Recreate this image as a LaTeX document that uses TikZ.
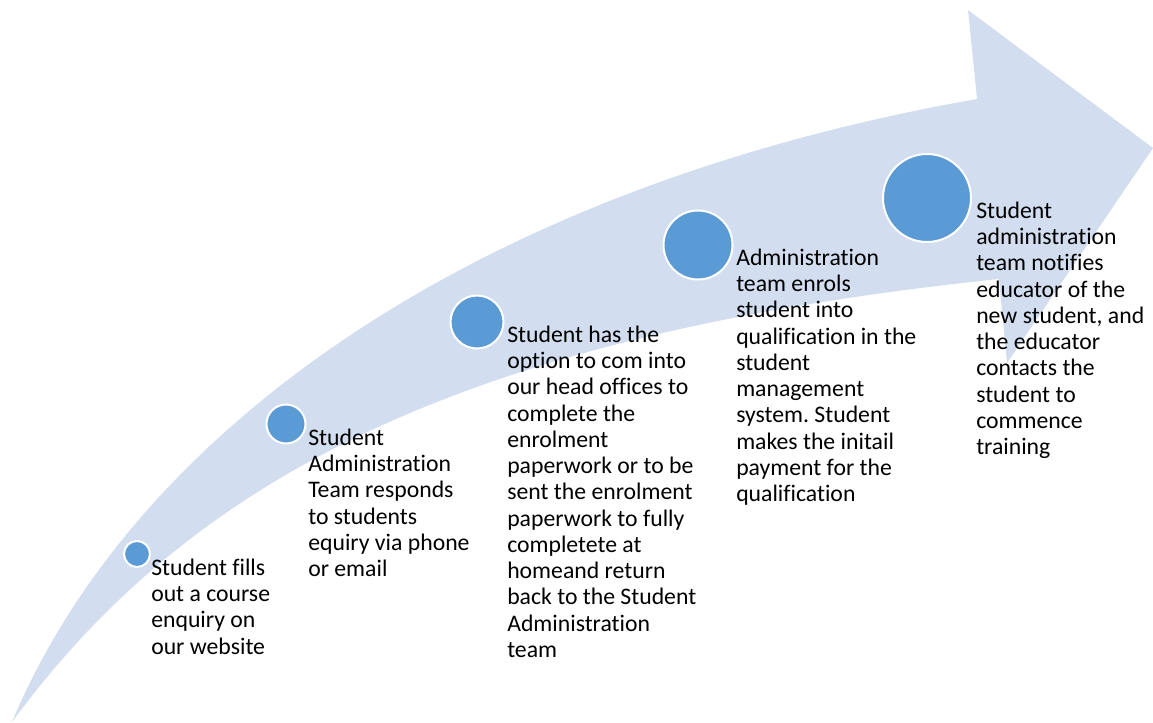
\documentclass[tikz,border=0pt]{standalone}
\usepackage{fontspec}
\setmainfont[Ligatures={NoCommon,NoRare,NoDiscretionary,NoContextual}]{Carlito}
\frenchspacing
\definecolor{arrowfill}{HTML}{D2DEEF}
\definecolor{dotfill}{HTML}{5B9BD5}
\begin{document}
\begin{tikzpicture}[x=0.75pt, y=-0.75pt,
    stepdot/.style={circle, fill=dotfill, draw=white, line width=1.5pt, inner sep=0pt},
    steptext/.style={anchor=north west, align=left, inner sep=0pt,
      font=\fontsize{17.8pt}{19.7pt}\selectfont}]
  \useasboundingbox (0,0) rectangle (1153,722);
  % big curved arrow
  \fill[arrowfill] (12,722) .. controls (130,440) and (460,190) .. (977,99)
    -- (968,10) -- (1153,148) -- (1007,363) -- (999,279)
    .. controls (460,335) and (190,480) .. (12,722) -- cycle;
  % circles
  \node[stepdot, minimum size=19.5pt] (c1) at (137,554) {};
  \node[stepdot, minimum size=29.25pt] (c2) at (286,424) {};
  \node[stepdot, minimum size=39.75pt] (c3) at (477,322) {};
  \node[stepdot, minimum size=51.75pt] (c4) at (698,245) {};
  \node[stepdot, minimum size=66pt] (c5) at (927,198) {};
  % texts
  \node[steptext] (t1) at (151,558.5) {Student fills\\out a course\\enquiry on\\our website};
  \node[steptext] (t2) at (308,428.5) {Student\\Administration\\Team responds\\to students\\equiry via phone\\or email};
  \node[steptext] (t3) at (507,325.5) {Student has the\\option to com into\\our head offices to\\complete the\\enrolment\\paperwork or to be\\sent the enrolment\\paperwork to fully\\completete at\\homeand return\\back to the Student\\Administration\\team};
  \node[steptext] (t4) at (736,248.5) {Administration\\team enrols\\student into\\qualification in the\\student\\management\\system. Student\\makes the initail\\payment for the\\qualification};
  \node[steptext] (t5) at (976,201.5) {Student\\administration\\team notifies\\educator of the\\new student, and\\the educator\\contacts the\\student to\\commence\\training};
\end{tikzpicture}
\end{document}
